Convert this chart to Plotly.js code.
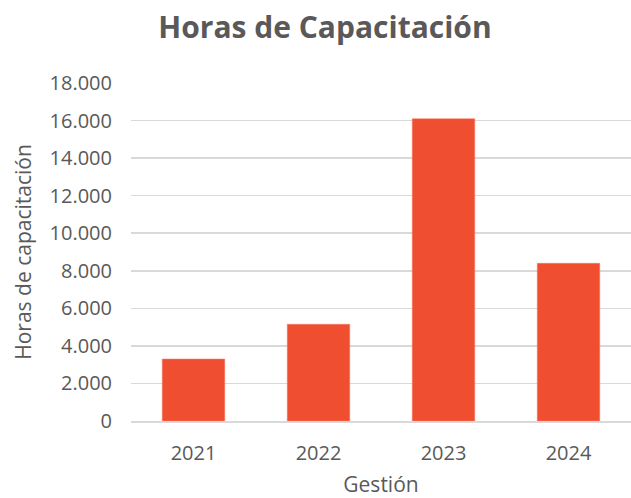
<!DOCTYPE html>
<html>
<head>
<meta charset="utf-8">
<script src="https://cdn.plot.ly/plotly-3.0.1.min.js"></script>
<style>html,body{margin:0;padding:0;background:#fff;}#chart{width:631px;height:498px;}</style>
</head>
<body>
<div id="chart"></div>
<script>
const years = ["2021", "2022", "2023", "2024"];
const hours = [3300, 5150, 16100, 8400];
const yTicks = [0, 2000, 4000, 6000, 8000, 10000, 12000, 14000, 16000, 18000];

const FONT = "'Open Sans', 'Noto Sans', sans-serif";
const GRAY = "#595959";

Plotly.newPlot("chart", [{
  type: "bar",
  x: years,
  y: hours,
  marker: {color: "#EF4E30", line: {color: "#F47A63", width: 0.5}},
  hoverinfo: "none"
}], {
  width: 631,
  height: 498,
  margin: {l: 131, r: 0, t: 83, b: 77},
  paper_bgcolor: "#fff",
  plot_bgcolor: "#fff",
  separators: ",.",
  bargap: 0.5,
  showlegend: false,
  font: {family: FONT, color: GRAY},
  title: {
    text: "<b>Horas de Capacitación</b>",
    font: {family: FONT, size: 30, color: GRAY},
    x: 0.515, xanchor: "center",
    y: 0.945, yanchor: "middle"
  },
  xaxis: {
    type: "category",
    range: [-0.5, 3.5],
    showgrid: false,
    zeroline: false,
    showline: true,
    linecolor: "#d9d9d9",
    linewidth: 1.5,
    ticks: "",
    tickfont: {family: FONT, size: 20, color: GRAY},
    ticklabelstandoff: 13,
    title: {text: "Gestión", font: {family: FONT, size: 21, color: GRAY}, standoff: 17}
  },
  yaxis: {
    range: [0, 18000],
    tickvals: yTicks,
    tickformat: ",d",
    showgrid: true,
    gridcolor: "#d9d9d9",
    gridwidth: 1.5,
    zeroline: false,
    showline: false,
    ticks: "",
    tickfont: {family: FONT, size: 20, color: GRAY},
    ticklabelstandoff: 18,
    title: {text: "Horas de capacitación", font: {family: FONT, size: 21, color: GRAY}, standoff: 12}
  }
}, {displayModeBar: false, staticPlot: true});
</script>
</body>
</html>
